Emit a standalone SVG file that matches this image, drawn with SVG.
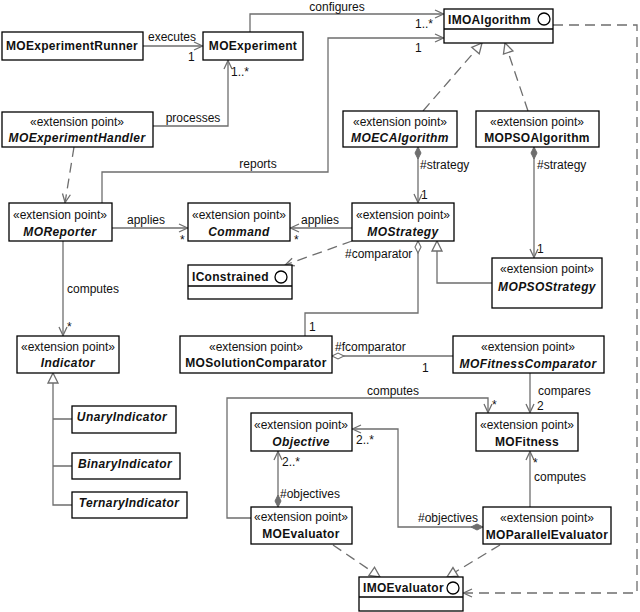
<svg xmlns="http://www.w3.org/2000/svg" width="640" height="612" viewBox="0 0 640 612">
<style>
.box{fill:#fff;stroke:#000;stroke-width:1.3}
.ln{fill:none;stroke:#6e6e6e;stroke-width:1.3}
.dash{stroke-dasharray:10,6}
text{font-family:"Liberation Sans",Arial,sans-serif;font-size:12px;fill:#111}
.c{text-anchor:middle}
.b{font-weight:bold;letter-spacing:0.3px}
.bi{font-weight:bold;font-style:italic;letter-spacing:0.4px}
</style>
<defs>
<marker id="arr" viewBox="0 0 10 10" markerUnits="userSpaceOnUse" markerWidth="10" markerHeight="10" refX="10" refY="5" orient="auto" overflow="visible"><path d="M1,1 L9.5,5 L1,9" fill="none" stroke="#6e6e6e" stroke-width="1.3"/></marker>
<marker id="tri" viewBox="0 0 12 12" markerUnits="userSpaceOnUse" markerWidth="12" markerHeight="12" refX="11" refY="6" orient="auto" overflow="visible"><path d="M1,1 L11,6 L1,11 Z" fill="#fff" stroke="#6e6e6e" stroke-width="1.3"/></marker>
<marker id="dia" viewBox="0 0 14 8" markerUnits="userSpaceOnUse" markerWidth="14" markerHeight="8" refX="1" refY="4" orient="auto" overflow="visible"><path d="M1,4 L7,1 L13,4 L7,7 Z" fill="#6e6e6e" stroke="#6e6e6e" stroke-width="1"/></marker>
<marker id="hdia" viewBox="0 0 14 8" markerUnits="userSpaceOnUse" markerWidth="14" markerHeight="8" refX="1" refY="4" orient="auto" overflow="visible"><path d="M1,4 L7,1 L13,4 L7,7 Z" fill="#fff" stroke="#6e6e6e" stroke-width="1.1"/></marker>
</defs>
<rect width="640" height="612" fill="#fff"/>
<g id="connectors">
<path class="ln" d="M143,46 H203" marker-end="url(#arr)"/>
<path class="ln" d="M153,126 H228 V60" marker-end="url(#arr)"/>
<path class="ln" d="M250,32 V14 H444" marker-end="url(#arr)"/>
<path class="ln" d="M102,203 V172 H328 V38 H444" marker-end="url(#arr)"/>
<path class="ln dash" d="M74,147 L65,203" marker-end="url(#arr)"/>
<path class="ln dash" d="M553,25 H637 V593 H463" marker-end="url(#arr)"/>
<path class="ln dash" d="M423,111 L482,43" marker-end="url(#tri)"/>
<path class="ln dash" d="M528,111 L505,43" marker-end="url(#tri)"/>
<path class="ln" d="M418,147 V203" marker-start="url(#dia)" marker-end="url(#arr)"/>
<path class="ln" d="M534,147 V258" marker-start="url(#dia)" marker-end="url(#arr)"/>
<path class="ln" d="M112,228 H188" marker-end="url(#arr)"/>
<path class="ln" d="M352,228 H290" marker-end="url(#arr)"/>
<path class="ln dash" d="M352,241 L285,265" marker-end="url(#arr)"/>
<path class="ln" d="M492,283 H437 V241" marker-end="url(#tri)"/>
<path class="ln" d="M418,241 V313 H305 V336" marker-start="url(#hdia)"/>
<path class="ln" d="M332,356 H453" marker-start="url(#hdia)"/>
<path class="ln" d="M63,241 V336" marker-end="url(#arr)"/>
<path class="ln" d="M72,505 H53 V373" marker-end="url(#tri)"/>
<path class="ln" d="M53,419 H72 M53,466 H72"/>
<path class="ln" d="M530,373 V413" marker-end="url(#arr)"/>
<path class="ln" d="M251,518 H227 V398 H488 V413" marker-end="url(#arr)"/>
<path class="ln" d="M278,507 V451" marker-start="url(#dia)" marker-end="url(#arr)"/>
<path class="ln" d="M483,527 H398 V429 H352" marker-start="url(#dia)" marker-end="url(#arr)"/>
<path class="ln" d="M530,507 V451" marker-end="url(#arr)"/>
<path class="ln dash" d="M333,545 L380,577" marker-end="url(#tri)"/>
<path class="ln dash" d="M500,545 L447,577" marker-end="url(#tri)"/>
<g id="labels">
<text x="172" y="41" class="c">executes</text>
<text x="188" y="61">1</text>
<text x="193" y="122" class="c">processes</text>
<text x="231" y="76">1..*</text>
<text x="337" y="11" class="c">configures</text>
<text x="415" y="28">1..*</text>
<text x="415" y="52">1</text>
<text x="258" y="168" class="c">reports</text>
<text x="146" y="224" class="c">applies</text>
<text x="180" y="244">*</text>
<text x="294" y="244">*</text>
<text x="320" y="224" class="c">applies</text>
<text x="420" y="169">#strategy</text>
<text x="421" y="199">1</text>
<text x="537" y="169">#strategy</text>
<text x="537" y="253">1</text>
<text x="345" y="258">#comparator</text>
<text x="67" y="293">computes</text>
<text x="67" y="331">*</text>
<text x="309" y="331">1</text>
<text x="335" y="351">#fcomparator</text>
<text x="422" y="372">1</text>
<text x="393" y="395" class="c">computes</text>
<text x="492" y="409">*</text>
<text x="538" y="395">compares</text>
<text x="537" y="410">2</text>
<text x="356" y="444">2..*</text>
<text x="282" y="466">2..*</text>
<text x="280" y="498">#objectives</text>
<text x="418" y="522">#objectives</text>
<text x="533" y="467">*</text>
<text x="534" y="481">computes</text>
</g>
</g>
<g id="MOExperimentRunner"><rect class="box" x="2" y="32" width="141" height="28"/><text x="72" y="50" class="c b">MOExperimentRunner</text></g>
<g id="MOExperiment"><rect class="box" x="203" y="32" width="100" height="28"/><text x="253" y="50" class="c b">MOExperiment</text></g>
<g id="IMOAlgorithm"><rect class="box" x="444" y="9" width="109" height="34"/><line x1="444" y1="29" x2="553" y2="29" stroke="#000" stroke-width="1.3"/><text x="448" y="24" class="b">IMOAlgorithm</text><circle cx="544" cy="19" r="6" fill="#fff" stroke="#000" stroke-width="1.3"/></g>
<g id="MOExperimentHandler"><rect class="box" x="2" y="112" width="151" height="35"/><text x="77" y="126" class="c">«extension point»</text><text x="77" y="142" class="c bi">MOExperimentHandler</text></g>
<g id="MOECAlgorithm"><rect class="box" x="343" y="111" width="114" height="36"/><text x="400" y="126" class="c">«extension point»</text><text x="400" y="142" class="c bi">MOECAlgorithm</text></g>
<g id="MOPSOAlgorithm"><rect class="box" x="476" y="111" width="123" height="36"/><text x="537" y="126" class="c">«extension point»</text><text x="537" y="142" class="c b">MOPSOAlgorithm</text></g>
<g id="MOReporter"><rect class="box" x="9" y="203" width="103" height="38"/><text x="60" y="219" class="c">«extension point»</text><text x="60" y="236" class="c bi">MOReporter</text></g>
<g id="Command"><rect class="box" x="188" y="203" width="102" height="38"/><text x="239" y="219" class="c">«extension point»</text><text x="239" y="236" class="c bi">Command</text></g>
<g id="MOStrategy"><rect class="box" x="352" y="203" width="102" height="38"/><text x="403" y="219" class="c">«extension point»</text><text x="403" y="236" class="c bi">MOStrategy</text></g>
<g id="IConstrained"><rect class="box" x="188" y="265" width="104" height="34"/><line x1="188" y1="286" x2="292" y2="286" stroke="#000" stroke-width="1.3"/><text x="192" y="281" class="b">IConstrained</text><circle cx="281" cy="277" r="6" fill="#fff" stroke="#000" stroke-width="1.3"/></g>
<g id="MOPSOStrategy"><rect class="box" x="492" y="258" width="110" height="50"/><text x="547" y="273" class="c">«extension point»</text><text x="547" y="291" class="c bi">MOPSOStrategy</text></g>
<g id="Indicator"><rect class="box" x="17" y="336" width="102" height="37"/><text x="68" y="351" class="c">«extension point»</text><text x="68" y="367" class="c bi">Indicator</text></g>
<g id="MOSolutionComparator"><rect class="box" x="180" y="336" width="152" height="37"/><text x="256" y="351" class="c">«extension point»</text><text x="256" y="367" class="c b">MOSolutionComparator</text></g>
<g id="MOFitnessComparator"><rect class="box" x="453" y="336" width="151" height="37"/><text x="528" y="351" class="c">«extension point»</text><text x="528" y="368" class="c bi">MOFitnessComparator</text></g>
<g id="UnaryIndicator"><rect class="box" x="72" y="406" width="104" height="27"/><text x="122" y="421" class="c bi">UnaryIndicator</text></g>
<g id="BinaryIndicator"><rect class="box" x="72" y="453" width="108" height="26"/><text x="125" y="468" class="c bi">BinaryIndicator</text></g>
<g id="TernaryIndicator"><rect class="box" x="72" y="492" width="115" height="26"/><text x="129" y="507" class="c bi">TernaryIndicator</text></g>
<g id="Objective"><rect class="box" x="251" y="413" width="101" height="38"/><text x="301" y="429" class="c">«extension point»</text><text x="301" y="446" class="c bi">Objective</text></g>
<g id="MOFitness"><rect class="box" x="476" y="413" width="102" height="38"/><text x="527" y="429" class="c">«extension point»</text><text x="527" y="446" class="c b">MOFitness</text></g>
<g id="MOEvaluator"><rect class="box" x="251" y="507" width="101" height="37"/><text x="301" y="521" class="c">«extension point»</text><text x="301" y="538" class="c b">MOEvaluator</text></g>
<g id="MOParallelEvaluator"><rect class="box" x="483" y="507" width="128" height="37"/><text x="547" y="522" class="c">«extension point»</text><text x="547" y="539" class="c b">MOParallelEvaluator</text></g>
<g id="IMOEvaluator"><rect class="box" x="359" y="577" width="104" height="34"/><line x1="359" y1="597" x2="463" y2="597" stroke="#000" stroke-width="1.3"/><text x="363" y="592" class="b">IMOEvaluator</text><circle cx="453" cy="588" r="6" fill="#fff" stroke="#000" stroke-width="1.3"/></g>
</svg>
